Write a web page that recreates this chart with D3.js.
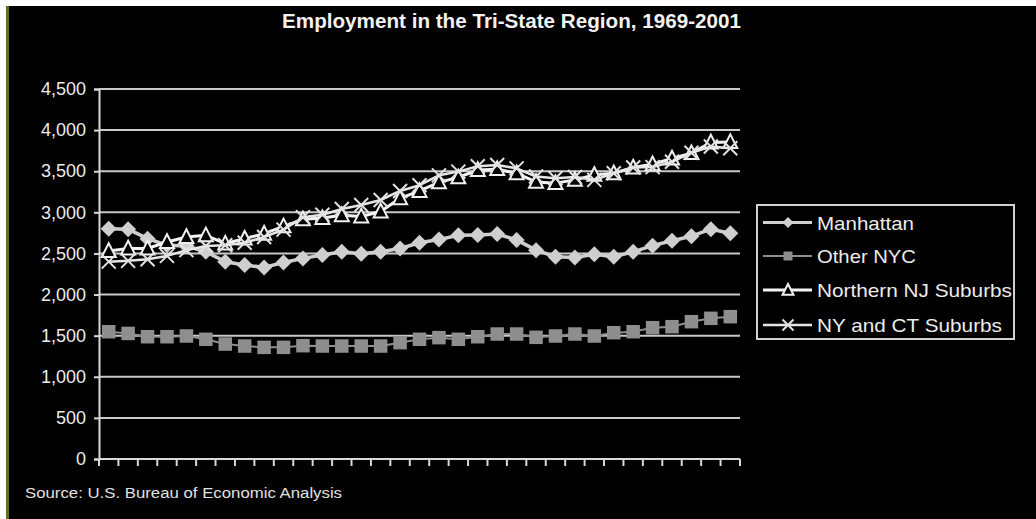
<!DOCTYPE html>
<html>
<head>
<meta charset="utf-8">
<script src="https://cdn.jsdelivr.net/npm/d3@7"></script>
<style>
  html, body { margin: 0; padding: 0; background: #000; }
  svg { display: block; }
</style>
</head>
<body>
<svg id="chart" width="1036" height="519"></svg>
<script>
// Employment (thousands of jobs) by sub-region, 1969-2001
const years = d3.range(1969, 2002);
const manhattan = [2800, 2795, 2680, 2600, 2590, 2520, 2400, 2360, 2330, 2390, 2440, 2480, 2520, 2495, 2520, 2560, 2630,
  2670, 2720, 2725, 2735, 2665, 2540, 2460, 2450, 2490, 2460, 2520, 2595, 2655, 2710, 2795, 2745];
const otherNYC = [1548, 1527, 1487, 1487, 1496, 1456, 1398, 1374, 1358, 1358, 1378, 1374, 1374, 1374, 1374, 1415, 1456,
  1476, 1456, 1487, 1520, 1520, 1480, 1496, 1520, 1496, 1536, 1548, 1597, 1609, 1670, 1711, 1731];
const northernNJ = [2530, 2560, 2560, 2640, 2700, 2720, 2620, 2680, 2740, 2830, 2915, 2930, 2965, 2950, 3010, 3170, 3260,
  3365, 3425, 3515, 3525, 3475, 3370, 3355, 3395, 3455, 3475, 3545, 3585, 3655, 3720, 3850, 3855];
const nyCT = [2400, 2410, 2430, 2470, 2540, 2590, 2600, 2630, 2700, 2790, 2940, 2970, 3040, 3090, 3150, 3260, 3330,
  3450, 3495, 3560, 3575, 3535, 3435, 3415, 3430, 3395, 3475, 3545, 3550, 3615, 3725, 3800, 3780];
const seriesNames = ["Manhattan", "Other NYC", "Northern NJ Suburbs", "NY and CT Suburbs"];
const yTicks = [0, 500, 1000, 1500, 2000, 2500, 3000, 3500, 4000, 4500];
const titleText = "Employment in the Tri-State Region, 1969-2001";
const sourceText = "Source:  U.S. Bureau of Economic Analysis";

const svg = d3.select("#chart");
const W = 1036, H = 519;
const font = "'Liberation Sans', Arial, Helvetica, sans-serif";

// frame: white strips at the top and left, an olive rule, black field
svg.append("rect").attr("width", W).attr("height", H).attr("fill", "#ffffff");
svg.append("rect").attr("x", 6).attr("y", 6).attr("width", W - 6).attr("height", H - 6).attr("fill", "#000");
svg.append("rect").attr("x", 6).attr("y", 6).attr("width", 3).attr("height", H - 6).attr("fill", "#5f6e2a");

const plot = { left: 99, right: 740, top: 89, bottom: 459 };
const x = d3.scaleBand().domain(years).range([plot.left, plot.right]).padding(0);
const y = d3.scaleLinear().domain([0, 4500]).range([plot.bottom, plot.top]);
const cx = d => x(d) + x.bandwidth() / 2;

// title (condensed bold)
svg.append("text")
  .attr("x", 511.5).attr("y", 27.5)
  .attr("text-anchor", "middle")
  .attr("font-family", font).attr("font-weight", "bold").attr("font-size", 20)
  .attr("fill", "#f2f2f2")
  .attr("textLength", 459).attr("lengthAdjust", "spacingAndGlyphs")
  .text(titleText);

// horizontal gridlines
svg.append("g").selectAll("line")
  .data(yTicks.filter(d => d > 0))
  .join("line")
  .attr("x1", plot.left).attr("x2", plot.right)
  .attr("y1", d => y(d)).attr("y2", d => y(d))
  .attr("stroke", "#c8c8c8").attr("stroke-width", 2);

// y axis
const yAxis = svg.append("g")
  .attr("transform", `translate(${plot.left},0)`)
  .call(d3.axisLeft(y).tickValues(yTicks).tickFormat(d3.format(",")).tickSize(5).tickPadding(8));
yAxis.select(".domain").attr("stroke", "#d8d8d8").attr("stroke-width", 2);
yAxis.selectAll(".tick line").attr("stroke", "#d8d8d8").attr("stroke-width", 2);
yAxis.selectAll("text")
  .attr("font-family", font).attr("font-size", 18).attr("fill", "#ececec");

// x axis baseline and category-boundary ticks
const xg = svg.append("g");
xg.append("line")
  .attr("x1", plot.left).attr("x2", plot.right)
  .attr("y1", y(0)).attr("y2", y(0))
  .attr("stroke", "#d8d8d8").attr("stroke-width", 2);
xg.selectAll("line.tk")
  .data(years.map(d => x(d)).concat([x.range()[1]]))
  .join("line").attr("class", "tk")
  .attr("x1", d => d).attr("x2", d => d)
  .attr("y1", y(0)).attr("y2", y(0) + 7)
  .attr("stroke", "#d8d8d8").attr("stroke-width", 2);

// series styling
const series = [
  { name: seriesNames[0], values: manhattan, line: "#cfcfcf", lw: 3.5, marker: "diamond", fill: "#cfcfcf", stroke: "none", size: 16 },
  { name: seriesNames[1], values: otherNYC, line: "#8e8e8e", lw: 2, marker: "square", fill: "#8e8e8e", stroke: "none", size: 13.5 },
  { name: seriesNames[2], values: northernNJ, line: "#f4f4f4", lw: 3, marker: "triangle", fill: "#000", stroke: "#f0f0f0", size: 14 },
  { name: seriesNames[3], values: nyCT, line: "#e6e6e6", lw: 2.5, marker: "cross", fill: "none", stroke: "#e2e2e2", size: 14 }
];

function markerPath(type, s) {
  const h = s / 2;
  switch (type) {
    case "diamond": return `M0,${-h}L${h},0L0,${h}L${-h},0Z`;
    case "square": return `M${-h},${-h}H${h}V${h}H${-h}Z`;
    case "triangle": return `M0,${-h * 1.1}L${h},${h * 0.85}L${-h},${h * 0.85}Z`;
    case "cross": return `M${-h},${-h}L${h},${h}M${h},${-h}L${-h},${h}`;
  }
}

const line = d3.line().x((d, i) => cx(years[i])).y(d => y(d));

series.forEach(s => {
  const g = svg.append("g");
  g.append("path")
    .attr("d", line(s.values))
    .attr("fill", "none").attr("stroke", s.line).attr("stroke-width", s.lw)
    .attr("stroke-linejoin", "round");
  g.selectAll("path.m")
    .data(s.values)
    .join("path").attr("class", "m")
    .attr("transform", (d, i) => `translate(${cx(years[i])},${y(d)})`)
    .attr("d", markerPath(s.marker, s.size))
    .attr("fill", s.fill)
    .attr("stroke", s.stroke)
    .attr("stroke-width", 2);
});

// legend
const lg = svg.append("g");
lg.append("rect")
  .attr("x", 757).attr("y", 205).attr("width", 257).attr("height", 134)
  .attr("fill", "#000").attr("stroke", "#d0d0d0").attr("stroke-width", 2);
const legendRows = [222.5, 256, 290, 325];
const legendWidths = [97, 99, 195, 185];
series.forEach((s, i) => {
  const ry = legendRows[i];
  lg.append("line")
    .attr("x1", 763).attr("x2", 812).attr("y1", ry).attr("y2", ry)
    .attr("stroke", s.line).attr("stroke-width", Math.min(s.lw, 3));
  const size = s.marker === "square" ? 9 : 11;
  lg.append("path")
    .attr("transform", `translate(788,${ry})`)
    .attr("d", markerPath(s.marker, size))
    .attr("fill", s.fill).attr("stroke", s.stroke).attr("stroke-width", 2);
  lg.append("text")
    .attr("x", 817).attr("y", ry + 7)
    .attr("font-family", font).attr("font-size", 19).attr("fill", "#ececec")
    .attr("textLength", legendWidths[i]).attr("lengthAdjust", "spacingAndGlyphs")
    .text(s.name);
});

// source note
svg.append("text")
  .attr("x", 25).attr("y", 498)
  .attr("font-family", font).attr("font-size", 14).attr("fill", "#e0e0e0")
  .attr("textLength", 317).attr("lengthAdjust", "spacingAndGlyphs")
  .text(sourceText);
</script>
</body>
</html>
